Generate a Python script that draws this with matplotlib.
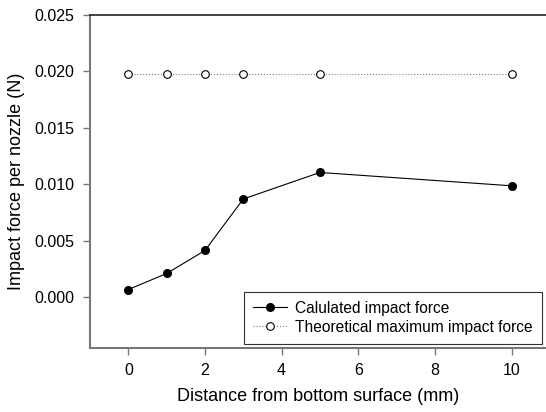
import matplotlib
matplotlib.use('Agg')
import matplotlib.pyplot as plt

plt.rcParams['font.family'] = ['Liberation Sans', 'DejaVu Sans']

# distances (mm) and forces (N)
distance = [0, 1, 2, 3, 5, 10]
calc_force = [0.00068, 0.0021, 0.00414, 0.0087, 0.01105, 0.00987]
theo_force = [0.0198, 0.0198, 0.0198, 0.0198, 0.0198, 0.0198]

fig = plt.figure(figsize=(5.46, 4.12), dpi=100)
ax = fig.add_axes([90/546, 1 - 348/412, 1 - 90/546, (348 - 15)/412])

ax.plot(distance, calc_force, color='black', linewidth=0.8, marker='o',
        markersize=5.5, markerfacecolor='black', markeredgecolor='black',
        label='Calulated impact force')
ax.plot(distance, theo_force, color='gray', linewidth=0.8, linestyle=':',
        marker='o', markersize=5.5, markerfacecolor='white',
        markeredgecolor='black', markeredgewidth=0.8,
        label='Theoretical maximum impact force')

ax.set_xlim(-1, 10.9)
ax.set_ylim(-0.0045, 0.025)
ax.set_xticks([0, 2, 4, 6, 8, 10])
ax.set_yticks([0.0, 0.005, 0.010, 0.015, 0.020, 0.025])
ax.set_yticklabels(['0.000', '0.005', '0.010', '0.015', '0.020', '0.025'])

ax.spines['right'].set_visible(False)
ax.spines['top'].set_color('#222222')
ax.spines['top'].set_linewidth(1.2)
ax.spines['left'].set_color('#777777')
ax.spines['left'].set_linewidth(1.5)
ax.spines['bottom'].set_color('#777777')
ax.spines['bottom'].set_linewidth(1.5)
ax.tick_params(direction='out', length=5, width=1, color='#777777',
               labelsize=11.5, pad=6)

ax.set_xlabel('Distance from bottom surface (mm)', fontsize=13, labelpad=7)
ax.set_ylabel('Impact force per nozzle (N)', fontsize=13, labelpad=7)

leg = ax.legend(loc='lower right', fontsize=11.2, frameon=True, fancybox=False,
                edgecolor='black', borderaxespad=0.25, handlelength=2.2,
                handletextpad=0.5, labelspacing=0.25, borderpad=0.6)
leg.get_frame().set_linewidth(0.8)

plt.savefig('out.png', dpi=100)
